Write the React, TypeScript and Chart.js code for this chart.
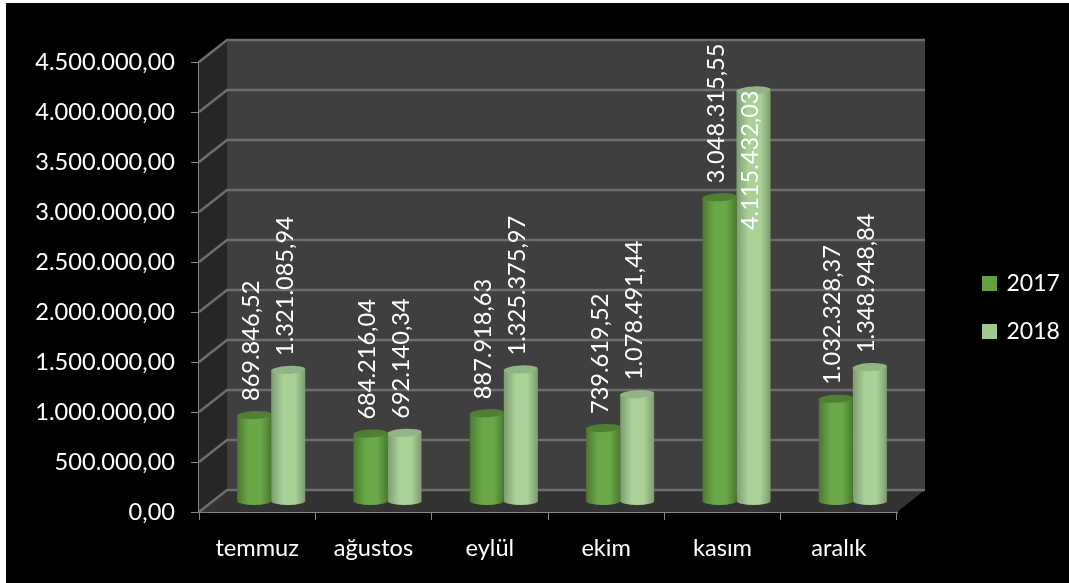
import React, { useEffect, useRef } from "react";
import { Chart, registerables } from "chart.js";

Chart.register(...registerables);

const categories = ["temmuz", "ağustos", "eylül", "ekim", "kasım", "aralık"];
const series2017 = [869846.52, 684216.04, 887918.63, 739619.52, 3048315.55, 1032328.37];
const series2018 = [1321085.94, 692140.34, 1325375.97, 1078491.44, 4115432.03, 1348948.84];
const FONT = "Lato";
const FONT_SIZE = 23.6;
const WALL_DX = 28;
const WALL_DY = -22;
const BAR_DX = 14;
const BAR_DY = -10;

const trNumber = (v: number) => {
  const [i, d] = v.toFixed(2).split(".");
  return i.replace(/\B(?=(\d{3})+(?!\d))/g, ".") + "," + d;
};

const shades = [
  { edge: "#4a7a30", mid: "#6ba847", top: "#4f7f33", legend: "#659f41" },
  { edge: "#7d9c70", mid: "#aad198", top: "#93b586", legend: "#a1c68f" },
];

const scene = {
  id: "scene",
  beforeLayout(chart: any) {
    const lg = chart.legend;
    if (lg && !lg.__wrapped) {
      lg.__wrapped = true;
      const fit = lg.fit.bind(lg);
      lg.fit = () => {
        fit();
        lg.width = 172;
      };
    }
  },
  afterLayout(chart: any) {
    const lg = chart.legend;
    lg.left = 984 - lg.options.labels.padding;
    lg.right = lg.left + 150;
    lg.top = 16;
    lg.bottom = 599;
  },
  beforeDatasetsDraw(chart: any) {
    const { ctx, chartArea: a, scales } = chart;
    const y = scales.y;
    ctx.save();
    ctx.fillStyle = "#3f3f3f";
    ctx.fillRect(a.left + WALL_DX, a.top + WALL_DY, a.right - a.left, a.bottom - a.top);
    ctx.fillStyle = "#262626";
    ctx.beginPath();
    ctx.moveTo(a.left, a.top);
    ctx.lineTo(a.left + WALL_DX, a.top + WALL_DY);
    ctx.lineTo(a.left + WALL_DX, a.bottom + WALL_DY);
    ctx.lineTo(a.left, a.bottom);
    ctx.closePath();
    ctx.fill();
    ctx.fillStyle = "#333333";
    ctx.beginPath();
    ctx.moveTo(a.left, a.bottom);
    ctx.lineTo(a.left + WALL_DX, a.bottom + WALL_DY);
    ctx.lineTo(a.right + WALL_DX, a.bottom + WALL_DY);
    ctx.lineTo(a.right, a.bottom);
    ctx.closePath();
    ctx.fill();
    ctx.strokeStyle = "#6e6e6e";
    ctx.lineWidth = 2.5;
    y.ticks.forEach((t: any) => {
      const py = y.getPixelForValue(t.value);
      ctx.beginPath();
      ctx.moveTo(a.left, py);
      ctx.lineTo(a.left + WALL_DX, py + WALL_DY);
      ctx.lineTo(a.right + WALL_DX, py + WALL_DY);
      ctx.stroke();
    });
    ctx.restore();
    ctx.save();
    ctx.translate(BAR_DX, BAR_DY);
  },
  afterDatasetDraw(chart: any, args: any) {
    const { ctx } = chart;
    const meta = args.meta;
    const s = shades[args.index];
    meta.data.forEach((bar: any) => {
      const hw = bar.width / 2;
      const g = ctx.createLinearGradient(bar.x - hw, 0, bar.x + hw, 0);
      g.addColorStop(0, s.edge);
      g.addColorStop(0.35, s.mid);
      g.addColorStop(0.7, s.mid);
      g.addColorStop(1, s.edge);
      ctx.fillStyle = g;
      ctx.beginPath();
      ctx.ellipse(bar.x, bar.base - 0.5, hw, 4, 0, 0, Math.PI);
      ctx.fill();
      ctx.fillStyle = s.top;
      ctx.beginPath();
      ctx.ellipse(bar.x, bar.y, hw, 4, -0.05, 0, Math.PI * 2);
      ctx.fill();
    });
  },
  afterDatasetsDraw(chart: any) {
    const { ctx } = chart;
    ctx.restore();
    ctx.save();
    ctx.fillStyle = "#ffffff";
    ctx.font = `${FONT_SIZE}px ${FONT}`;
    ctx.textBaseline = "middle";
    chart.data.datasets.forEach((ds: any, di: number) => {
      chart.getDatasetMeta(di).data.forEach((bar: any, i: number) => {
        const text = trNumber(ds.data[i]);
        const w = ctx.measureText(text).width;
        const top = bar.y + BAR_DY;
        const overflow = top - 14 - w < 40;
        ctx.save();
        ctx.translate(bar.x + BAR_DX - 3, overflow ? top : top - 14);
        ctx.rotate(-Math.PI / 2);
        ctx.textAlign = overflow ? "right" : "left";
        ctx.fillText(text, 0, 0);
        ctx.restore();
      });
    });
    ctx.restore();
  },
};

export default function App() {
  const ref = useRef<HTMLCanvasElement>(null);
  useEffect(() => {
    document.body.style.margin = "0";
    document.body.style.background = "#fff";
    const gradient = (di: number) => (c: any) => {
      const chart = c.chart;
      const x = chart.scales.x;
      if (!x || c.dataIndex === undefined) return shades[di].legend;
      const step = (x.right - x.left) / categories.length;
      const hw = (step * 0.585) / 4;
      const cx = x.getPixelForValue(c.dataIndex) + (di === 0 ? -hw : hw);
      const g = chart.ctx.createLinearGradient(cx - hw, 0, cx + hw, 0);
      g.addColorStop(0, shades[di].edge);
      g.addColorStop(0.35, shades[di].mid);
      g.addColorStop(0.7, shades[di].mid);
      g.addColorStop(1, shades[di].edge);
      return g;
    };
    const chart = new Chart(ref.current!, {
      type: "bar",
      data: {
        labels: categories,
        datasets: [
          { label: "2017", data: series2017, backgroundColor: gradient(0) as any },
          { label: "2018", data: series2018, backgroundColor: gradient(1) as any },
        ],
      },
      options: {
        responsive: false,
        animation: false,
        devicePixelRatio: 1,
        layout: { padding: { top: 62, bottom: 0, left: 0, right: 0 } },
        datasets: { bar: { categoryPercentage: 0.585, barPercentage: 1 } },
        plugins: {
          tooltip: { enabled: false },
          title: { display: false },
          legend: {
            position: "right",
            labels: {
              color: "#ffffff",
              font: { family: FONT, size: 23 },
              usePointStyle: true,
              boxWidth: 11,
              boxHeight: 15,
              padding: 25,
              generateLabels: (c: any) =>
                c.data.datasets.map((d: any, i: number) => ({
                  text: d.label,
                  fillStyle: shades[i].legend,
                  strokeStyle: shades[i].legend,
                  lineWidth: 0,
                  pointStyle: "rect",
                  fontColor: "#ffffff",
                  datasetIndex: i,
                })),
            },
          },
        },
        scales: {
          x: {
            afterFit: (s: any) => {
              s.height = 71;
            },
            ticks: { color: "#ffffff", font: { family: FONT, size: 23.6 }, padding: 14, maxRotation: 0 },
            grid: { color: "#868686", drawOnChartArea: false, tickLength: 8, offset: true, tickColor: "#868686" },
            border: { color: "#868686", width: 2 },
          },
          y: {
            min: 0,
            max: 4500000,
            afterFit: (s: any) => {
              s.width = 199;
            },
            ticks: {
              stepSize: 500000,
              color: "#ffffff",
              font: { family: FONT, size: FONT_SIZE },
              padding: 16,
              callback: (v: any) => trNumber(Number(v)),
            },
            grid: { color: "#868686", drawOnChartArea: false, tickLength: 8, tickColor: "#868686" },
            border: { color: "#868686", width: 2 },
          },
        },
      },
      plugins: [scene],
    } as any);
    return () => chart.destroy();
  }, []);
  return (
    <div style={{ position: "relative", width: 1069, height: 583, overflow: "hidden" }}>
      <canvas ref={ref} width={1069} height={583} style={{ display: "block", background: "#000" }} />
      <div style={{ position: "absolute", left: 0, top: 0, width: 6, height: 583, background: "#fff" }} />
      <div style={{ position: "absolute", left: 0, top: 0, width: 1069, height: 3, background: "#fff" }} />
    </div>
  );
}
